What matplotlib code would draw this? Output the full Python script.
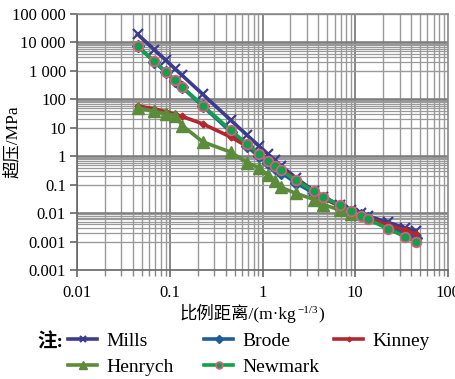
import matplotlib as mpl
mpl.use('Agg')
import matplotlib.pyplot as plt
import numpy as np

plt.rcParams['font.family'] = ['Liberation Serif', 'Noto Sans CJK SC']

# scaled distance (m/kg^(1/3)) and overpressure (MPa)
z = [0.045, 0.068, 0.091, 0.114, 0.136, 0.227, 0.454, 0.68, 0.91, 1.14, 1.36,
     1.59, 2.27, 3.6, 4.5, 6.8, 9.1, 11.4, 13.6, 22.7, 34, 45]
mills = [19400, 5610, 2340, 1190, 699, 150, 18.6, 5.55, 2.33, 1.20, 0.722,
         0.464, 0.177, 0.0592, 0.0378, 0.0191, 0.0128, 0.0098, 0.0080, 0.0047, 0.0031, 0.0024]
brode = [7353, 2131, 889, 452, 266, 57.4, 7.26, 2.23, 0.99, 0.59, 0.381,
         0.263, 0.119, 0.049, 0.0334, 0.0175, 0.0113, 0.0085, 0.0068, 0.0033, 0.0019, 0.0013]
kinney = [59.1, 46.1, 36.7, 29.8, 25.0, 13.7, 4.75, 2.24, 1.23, 0.757, 0.509,
          0.355, 0.155, 0.0557, 0.0356, 0.0174, 0.0113, 0.0084, 0.0068, 0.0038, 0.0025, 0.0019]
z_henrych = [0.045, 0.068, 0.091, 0.114, 0.136, 0.227, 0.454, 0.68, 0.91, 1.14, 1.36,
             1.59, 2.27, 3.6, 4.5, 6.8, 9.1]
henrych = [50, 38, 31, 27, 12, 3.2, 1.4, 0.6, 0.4, 0.22, 0.13,
           0.08, 0.05, 0.03, 0.02, 0.013, 0.0095]
newmark = [7480, 2170, 911, 466, 276, 60.7, 8.21, 2.68, 1.24, 0.70, 0.455,
           0.315, 0.144, 0.0576, 0.0382, 0.0187, 0.0116, 0.0081, 0.0061, 0.0028, 0.0015, 0.00098]

ytick_vals = [1e-4, 1e-3, 1e-2, 1e-1, 1, 10, 100, 1e3, 1e4, 1e5]
ytick_labels = ['0.001', '0.001', '0.01', '0.1', '1', '10', '100', '1 000', '10 000', '100 000']
xtick_vals = [0.01, 0.1, 1, 10, 100]
xtick_labels = ['0.01', '0.1', '1', '10', '100']

W, H = 455, 379
fig = plt.figure(figsize=(W/100, H/100), dpi=100)
ax = fig.add_axes([77/W, 1-270/H, (448-77)/W, (270-14)/H])
ax.set_xscale('log')
ax.set_yscale('log')
ax.set_xlim(0.01, 100)
ax.set_ylim(1e-4, 1e5)

# grid: x as a normal log grid, y with dense bands under every second decade
gc = '#9a9a9a'
for e in range(-2, 2):
    for k in range(1, 10):
        v = k * 10.0**e
        ax.axvline(v, color='#7d7d7d' if k == 1 else gc, lw=1.3 if k == 1 else 1.0, zorder=0)
for v in ytick_vals:
    ax.axhline(v, color=gc, lw=1.0, zorder=0)
for e in [4, 2, 0, -2]:
    ax.axhline(10.0**e, color='#7d7d7d', lw=1.8, zorder=0)
    for k in range(2, 10):
        ax.axhline(k * 10.0**(e-1), color=gc, lw=0.9, zorder=0)

lw = 2.6
l_mills, = ax.plot(z, mills, color='#3b3d8c', lw=lw, marker='x', ms=7, mew=1.6, zorder=3)
l_brode, = ax.plot(z, brode, color='#1d5d9b', lw=lw, marker='D', ms=6, zorder=3)
l_kinney, = ax.plot(z, kinney, color='#b3282e', lw=lw, marker='D', ms=3.5, zorder=4)
l_henrych, = ax.plot(z_henrych, henrych, color='#5b8c3a', lw=lw, marker='^', ms=8, zorder=4)
l_newmark, = ax.plot(z, newmark, color='#13a04c', lw=lw, marker='o', ms=7,
                     mfc='#13a04c', mec='#d9607a', mew=1.2, zorder=5)

ax.set_yticks(ytick_vals)
ax.set_yticklabels(ytick_labels)
ax.set_xticks(xtick_vals)
ax.set_xticklabels(xtick_labels)
ax.yaxis.set_minor_locator(mpl.ticker.NullLocator())
ax.xaxis.set_minor_locator(mpl.ticker.LogLocator(subs=np.arange(2, 10)))
ax.xaxis.set_minor_formatter(mpl.ticker.NullFormatter())
ax.tick_params(axis='both', which='major', labelsize=12, length=5, width=1.2,
               color='#666666', direction='out', pad=3)
ax.tick_params(axis='x', which='minor', length=4, width=1.0, color='#888888', direction='out')
ax.tick_params(axis='x', which='major', pad=6)
for s in ax.spines.values():
    s.set_color('#888888')
    s.set_linewidth(1.2)
ax.spines['left'].set_color('#666666')
ax.spines['bottom'].set_color('#666666')

fig.text(12/W, 1-142/H, '超压/MPa', fontsize=12.5, rotation=90, ha='center', va='center')

# x label built from pieces so the CJK glyphs and the superscript both render
renderer = fig.canvas.get_renderer()
ylab = 1-319/H
t1 = fig.text(0, ylab, '比例距离/(m·kg', fontsize=12.5, ha='left', va='baseline')
w1 = t1.get_window_extent(renderer).width
t2 = fig.text(0, ylab + 6/H, '−1/3', fontsize=8, ha='left', va='baseline')
w2 = t2.get_window_extent(renderer).width
t3 = fig.text(0, ylab, ')', fontsize=12.5, ha='left', va='baseline')
w3 = t3.get_window_extent(renderer).width
x0 = 251 - (w1 + w2 + w3) / 2
t1.set_x(x0/W)
t2.set_x((x0 + w1 + 1)/W)
t3.set_x((x0 + w1 + w2 + 2)/W)

fig.text(37/W, 1-342/H, '注:', fontsize=14, va='center', ha='left', fontweight='bold')
leg_kw = dict(loc='upper left', frameon=False, fontsize=14, handlelength=1.5,
              handletextpad=0.45, labelspacing=0.45, borderpad=0, borderaxespad=0,
              markerscale=0.7)
fig.legend([l_mills, l_henrych], ['Mills', 'Henrych'], bbox_to_anchor=(68/W, 1-332/H), **leg_kw)
fig.legend([l_brode, l_newmark], ['Brode', 'Newmark'], bbox_to_anchor=(204/W, 1-332/H), **leg_kw)
fig.legend([l_kinney], ['Kinney'], bbox_to_anchor=(334/W, 1-332/H), **leg_kw)

fig.savefig('out.png', dpi=100)
